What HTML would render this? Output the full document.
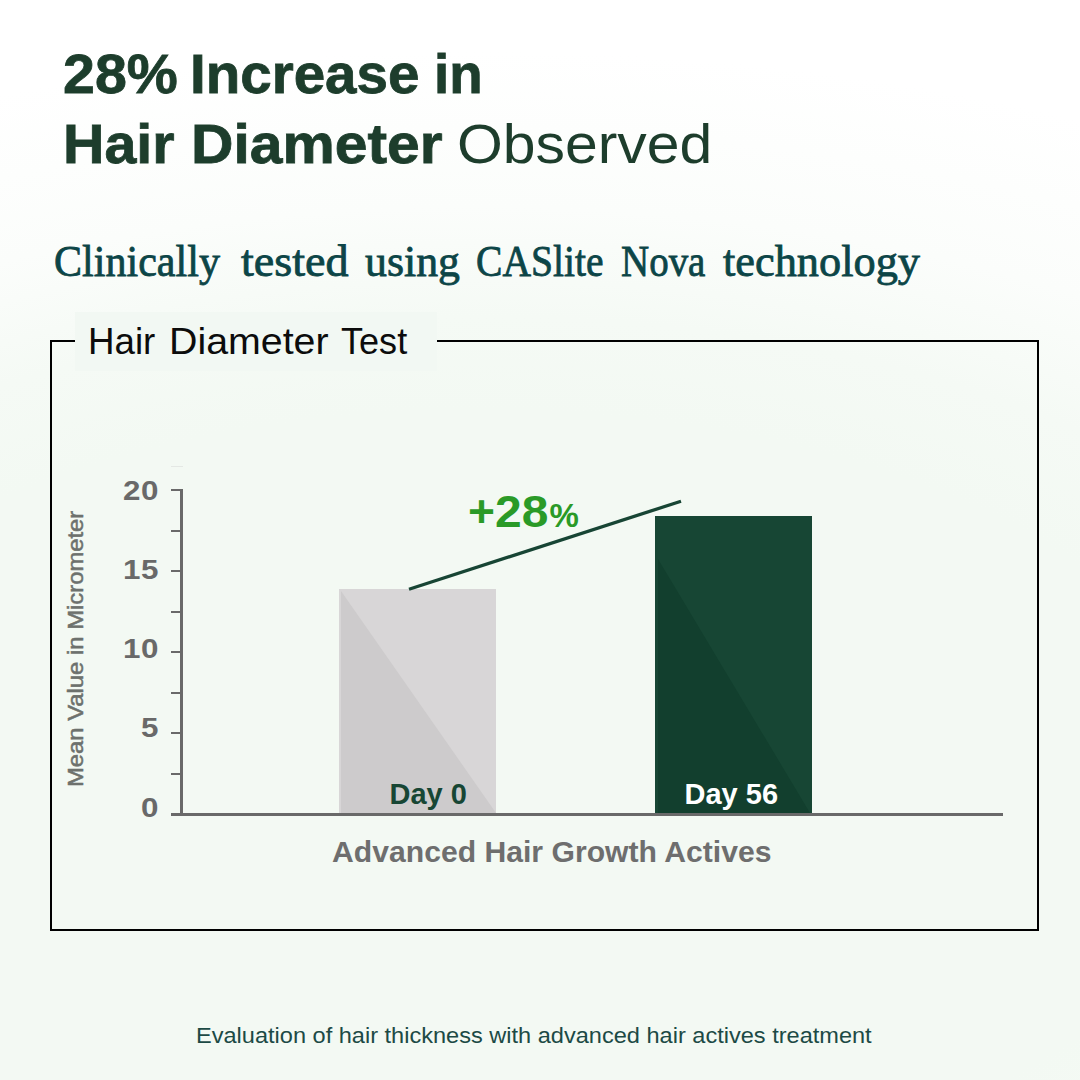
<!DOCTYPE html>
<html>
<head>
<meta charset="utf-8">
<title>Hair Diameter Test</title>
<style>
  html, body { margin:0; padding:0; }
  body {
    width:1080px; height:1080px; overflow:hidden; position:relative;
    font-family:"Liberation Sans", sans-serif;
    background:#f3f9f3;
  }
  #bg {
    position:absolute; left:0; top:0; width:1080px; height:1080px;
    background:
      radial-gradient(ellipse 1500px 780px at 480px 800px, #f3f9f3 0%, #f3f9f3 50%, #f5faf5 62%, #fbfdfb 76%, #ffffff 96%);
  }
  .t { position:absolute; white-space:nowrap; line-height:1; transform-origin:0 0; }
  .hw { position:absolute; white-space:nowrap; line-height:1; transform-origin:0 0; font-size:56px; color:#1d3d2c; }
  .hw.b { font-weight:bold; -webkit-text-stroke:0.8px #1d3d2c; }
  .sw { position:absolute; top:239.2px; white-space:nowrap; line-height:1; transform-origin:0 0; font-family:"Liberation Serif", serif; font-size:45px; color:#0c4547; -webkit-text-stroke:0.8px #0c4547; }
  #frame { position:absolute; left:50px; top:340px; width:985px; height:587px; border:2px solid #000; }
  #legend { position:absolute; left:75px; top:312px; width:362px; height:59px; background:#f2f8f3; }
  .lgw { top:323px; font-size:37px; color:#0c0c0c; }
  #yaxis { position:absolute; left:180px; top:489px; width:3px; height:327px; background:#696969; }
  #xaxis { position:absolute; left:171px; top:813px; width:832px; height:3px; background:#696969; }
  .tick { position:absolute; left:171px; width:10px; height:2px; background:#696969; }
  .yl { position:absolute; width:60px; left:99.3px; text-align:right; font-size:28.5px; font-weight:bold; color:#696969; line-height:1; letter-spacing:0.5px; white-space:nowrap; transform:scaleX(1.1); transform-origin:100% 0; }
  #ylab { left:65.5px; top:787px; font-size:21.5px; color:#6d716d; transform:rotate(-90deg) scaleX(1.108); transform-origin:0 0; -webkit-text-stroke:0.5px #6d716d; }
  #bar1 { position:absolute; left:339px; top:589px; width:157px; height:224px; background:#d8d6d7; overflow:hidden; }
  #bar2 { position:absolute; left:655px; top:516px; width:157px; height:297px; background:#174634; overflow:hidden; }
  #bar1 svg, #bar2 svg { position:absolute; left:0; top:0; }
  #d0 { left:389.5px; top:780px; font-size:29px; font-weight:bold; color:#174634; }
  #d56 { left:684.5px; top:780px; font-size:29px; font-weight:bold; color:#ffffff; }
  #adv { left:332px; top:837.5px; font-size:29px; font-weight:bold; color:#6e6e6e; transform:scaleX(1.0395); }
  .pc { font-weight:bold; color:#2a9a27; }
  #foot { left:196px; top:1025.3px; font-size:22.5px; color:#1c4a45; transform:scaleX(1.047); }
</style>
</head>
<body>
<div id="bg"></div>

<div class="hw b" id="hw0" style="left:62.8px;top:46px;transform:scaleX(1.0245)">28%</div>
<div class="hw b" id="hw1" style="left:189.8px;top:46px;transform:scaleX(1.0094)">Increase</div>
<div class="hw b" id="hw2" style="left:433.7px;top:46px;transform:scaleX(0.977)">in</div>
<div class="hw b" id="hw3" style="left:63.1px;top:116px;transform:scaleX(1.0243)">Hair</div>
<div class="hw b" id="hw4" style="left:190.6px;top:116px;transform:scaleX(1.0502)">Diameter</div>
<div class="hw n" id="hw5" style="left:456.9px;top:116.3px;transform:scaleX(1.0513)">Observed</div>
<div class="sw" id="sw0" style="left:54px;transform:scaleX(0.935)">Clinically</div>
<div class="sw" id="sw1" style="left:240.7px;transform:scaleX(1.025)">tested</div>
<div class="sw" id="sw2" style="left:365px;transform:scaleX(0.974)">using</div>
<div class="sw" id="sw3" style="left:476px;transform:scaleX(0.879)">CASlite</div>
<div class="sw" id="sw4" style="left:620.9px;transform:scaleX(0.866)">Nova</div>
<div class="sw" id="sw5" style="left:723.1px;transform:scaleX(0.985)">technology</div>

<div id="frame"></div>
<div id="legend"></div>
<div class="t lgw" style="left:88.2px;transform:scaleX(0.992)">Hair</div>
<div class="t lgw" style="left:168.8px;transform:scaleX(1.063)">Diameter</div>
<div class="t lgw" style="left:340.8px;transform:scaleX(0.975)">Test</div>

<div id="yaxis"></div>
<div style="position:absolute;left:171px;top:466px;width:12px;height:1px;background:#e4e8e4"></div>
<div id="xaxis"></div>
<div class="tick" style="top:489px"></div>
<div class="tick" style="top:530px"></div>
<div class="tick" style="top:570px"></div>
<div class="tick" style="top:611px"></div>
<div class="tick" style="top:651px"></div>
<div class="tick" style="top:692px"></div>
<div class="tick" style="top:732px"></div>
<div class="tick" style="top:773px"></div>

<div class="yl" style="top:475.5px">20</div>
<div class="yl" style="top:554.5px">15</div>
<div class="yl" style="top:633.5px">10</div>
<div class="yl" style="top:713px">5</div>
<div class="yl" style="top:792.5px">0</div>

<div class="t" id="ylab">Mean Value in Micrometer</div>

<div id="bar1"><svg width="157" height="224"><polygon points="2,2 157,224 2,224" fill="#cdcbcc"/></svg></div>
<div id="bar2"><svg width="157" height="297"><polygon points="3,43 155,297 3,297" fill="#123f2e"/></svg></div>

<svg style="position:absolute;left:0;top:0" width="1080" height="1080"><line x1="409" y1="589.3" x2="681" y2="501.2" stroke="#174534" stroke-width="3.3"/></svg>

<div class="t pc" id="p1" style="left:467.5px;top:490px;font-size:44px;transform:scaleX(1.05)">+</div>
<div class="t pc" id="p2" style="left:495px;top:490px;font-size:44px;transform:scaleX(1.09)">28</div>
<div class="t pc" id="p3" style="left:549.5px;top:499px;font-size:33px;">%</div>
<div class="t" id="d0">Day 0</div>
<div class="t" id="d56">Day 56</div>
<div class="t" id="adv">Advanced Hair Growth Actives</div>

<div class="t" id="foot">Evaluation of hair thickness with advanced hair actives treatment</div>
</body>
</html>
